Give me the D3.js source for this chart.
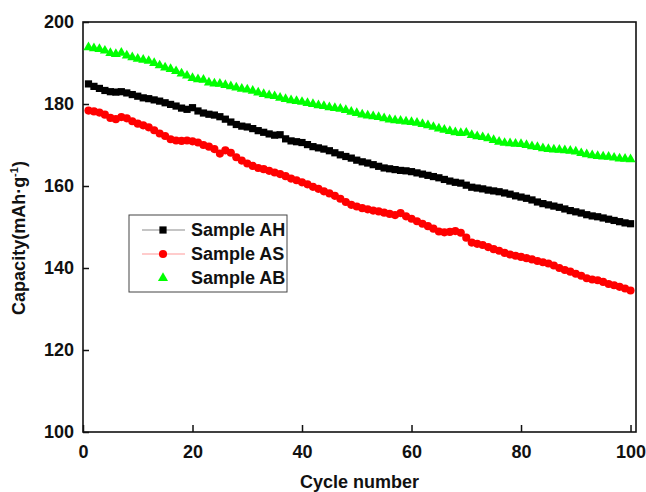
<!DOCTYPE html>
<html>
<head>
<meta charset="utf-8">
<script src="https://cdn.jsdelivr.net/npm/d3@7"></script>
<style>
  html, body { margin: 0; padding: 0; background: #fff; }
  svg { display: block; }
</style>
</head>
<body>
<svg id="chart" width="646" height="492"></svg>
<script>
// cycle numbers 1..100
const cycles = d3.range(1, 101)

// capacity values (mAh/g)
const sampleAH = [
  184.9, 184.3, 183.8, 183.3, 183.0, 182.9, 183.0, 182.7, 182.3, 181.9,
  181.5, 181.3, 181.0, 180.7, 180.3, 179.9, 179.5, 179.0, 178.7, 179.1,
  178.3, 177.8, 177.5, 177.3, 176.9, 176.3, 175.6, 175.0, 174.6, 174.4,
  174.0, 173.5, 173.1, 172.7, 172.4, 172.5, 171.5, 171.0, 170.8, 170.6,
  170.1, 169.6, 169.3, 169.0, 168.6, 168.1, 167.6, 167.2, 166.8, 166.3,
  165.9, 165.6, 165.2, 164.8, 164.4, 164.2, 164.0, 163.8, 163.7, 163.5,
  163.2, 162.9, 162.6, 162.3, 162.0, 161.6, 161.2, 160.9, 160.7, 160.2,
  159.7, 159.5, 159.3, 159.0, 158.8, 158.6, 158.3, 158.0, 157.6, 157.3,
  157.0, 156.6, 156.1, 155.7, 155.4, 155.1, 154.8, 154.4, 154.0, 153.7,
  153.4, 153.0, 152.7, 152.5, 152.2, 151.9, 151.6, 151.3, 151.0, 150.8
]
const sampleAS = [
  178.4, 178.2, 177.9, 177.4, 176.6, 176.3, 176.8, 176.5, 175.8, 175.2,
  174.8, 174.3, 173.6, 172.8, 172.2, 171.4, 171.1, 171.0, 171.1, 170.9,
  170.6, 170.0, 169.6, 169.0, 167.9, 168.7, 168.1, 167.0, 166.2, 165.5,
  164.9, 164.4, 164.1, 163.7, 163.3, 162.9, 162.4, 161.8, 161.4, 160.9,
  160.4, 159.8, 159.3, 158.7, 158.2, 157.6, 156.9, 156.1, 155.4, 155.0,
  154.6, 154.3, 154.0, 153.8, 153.5, 153.2, 152.9, 153.4, 152.6, 152.0,
  151.4, 150.8, 150.2, 149.6, 148.9, 148.7, 148.8, 149.0, 148.6, 147.4,
  146.2, 145.9, 145.6, 145.1, 144.6, 144.2, 143.7, 143.3, 143.0, 142.7,
  142.4, 142.1, 141.7, 141.4, 141.1, 140.6, 140.0, 139.5, 139.1, 138.6,
  138.1, 137.5, 137.2, 137.0, 136.6, 136.1, 135.8, 135.4, 135.0, 134.5
]
const sampleAB = [
  193.8, 193.6, 193.4, 193.0, 192.4, 192.2, 192.5, 191.8, 191.4, 191.0,
  190.8, 190.5, 190.0, 189.4, 188.9, 188.5, 188.0, 187.4, 186.9, 186.3,
  186.0, 185.9, 185.2, 185.0, 184.9, 184.6, 184.3, 184.0, 183.7, 183.5,
  183.2, 182.8, 182.4, 182.1, 181.9, 181.5, 181.2, 180.9, 180.7, 180.5,
  180.2, 180.0, 179.7, 179.5, 179.2, 179.0, 178.8, 178.5, 178.1, 177.8,
  177.4, 177.2, 177.0, 176.8, 176.5, 176.2, 176.0, 175.9, 175.7, 175.6,
  175.4, 175.1, 174.8, 174.4, 174.0, 173.7, 173.4, 173.1, 172.9, 173.0,
  172.4, 172.1, 171.9, 171.6, 171.2, 170.8, 170.5, 170.4, 170.3, 170.2,
  170.0, 169.7, 169.5, 169.2, 169.0, 168.9, 168.8, 168.7, 168.6, 168.4,
  168.0, 167.7, 167.5, 167.3, 167.2, 167.1, 166.9, 166.7, 166.6, 166.5
]

const seriesNames = ["Sample AH", "Sample AS", "Sample AB"]
const xTicks = [0, 20, 40, 60, 80, 100]
const yTicks = [100, 120, 140, 160, 180, 200]

const series = [
  { name: seriesNames[0], values: sampleAH, color: "#000000", line: "#8c8c8c", symbol: d3.symbolSquare, size: 52 },
  { name: seriesNames[1], values: sampleAS, color: "#ff0000", line: "#ff9a9a", symbol: d3.symbolCircle, size: 52 },
  { name: seriesNames[2], values: sampleAB, color: "#00ff00", line: null, symbol: d3.symbolTriangle, size: 44 }
]

const margin = { top: 22, right: 10, bottom: 60, left: 83 }
const width = 646, height = 492
const chartWidth = width - margin.left - margin.right
const chartHeight = height - margin.top - margin.bottom

const x = d3.scaleLinear().domain([0, 101]).range([0, chartWidth])
const y = d3.scaleLinear().domain([100, 200]).range([chartHeight, 0])

const svg = d3.select("#chart").append("g")
  .attr("transform", `translate(${margin.left},${margin.top})`)

const tickFont = "'Liberation Sans', Arial, sans-serif"

// x axis with inward ticks
const xAxis = svg.append("g").attr("transform", `translate(0,${chartHeight})`)
xAxis.call(d3.axisBottom(x).tickValues(d3.range(10, 101, 20)).tickSize(-4).tickFormat(""))
xAxis.call(d3.axisBottom(x).tickValues(xTicks).tickSize(-7).tickPadding(13).tickFormat(d3.format("d")))
xAxis.selectAll(".domain").remove()
xAxis.selectAll("line").attr("stroke", "#111").attr("stroke-width", 1.5)
xAxis.selectAll("text")
  .attr("font-family", tickFont)
  .attr("font-size", 18)
  .attr("font-weight", "bold")
  .attr("fill", "#111")

// y axis with inward ticks
const yAxis = svg.append("g")
yAxis.call(d3.axisLeft(y).tickValues(d3.range(110, 200, 20)).tickSize(-4).tickFormat(""))
yAxis.call(d3.axisLeft(y).tickValues(yTicks).tickSize(-6).tickPadding(9).tickFormat(d3.format("d")))
yAxis.selectAll(".domain").remove()
yAxis.selectAll("line").attr("stroke", "#111").attr("stroke-width", 1.5)
yAxis.selectAll("text")
  .attr("font-family", tickFont)
  .attr("font-size", 18)
  .attr("font-weight", "bold")
  .attr("fill", "#111")

// frame
svg.append("rect")
  .attr("x", 0).attr("y", 0)
  .attr("width", chartWidth).attr("height", chartHeight)
  .attr("fill", "none")
  .attr("stroke", "#111")
  .attr("stroke-width", 1.6)

// axis titles
svg.append("text")
  .attr("x", x(50.5))
  .attr("y", chartHeight + 56)
  .attr("text-anchor", "middle")
  .attr("font-family", tickFont)
  .attr("font-size", 18)
  .attr("font-weight", "bold")
  .attr("fill", "#111")
  .text("Cycle number")

const yTitle = svg.append("text")
  .attr("transform", `translate(${25 - margin.left},${238 - margin.top}) rotate(-90)`)
  .attr("text-anchor", "middle")
  .attr("font-family", tickFont)
  .attr("font-size", 18)
  .attr("font-weight", "bold")
  .attr("fill", "#111")
yTitle.append("tspan").text("Capacity(mAh·g")
yTitle.append("tspan").attr("font-size", 11).attr("dy", -7).text("-1")
yTitle.append("tspan").attr("dy", 7).text(")")

// series lines and markers
const line = d3.line().x((d, i) => x(cycles[i])).y(d => y(d))
const vizLayer = svg.append("g").attr("id", "viz")

series.forEach(s => {
  if (s.line) {
    vizLayer.append("path")
      .attr("d", line(s.values))
      .attr("fill", "none")
      .attr("stroke", s.line)
      .attr("stroke-width", 1)
  }
})

series.forEach(s => {
  vizLayer.append("g")
    .selectAll("path")
    .data(s.values)
    .join("path")
    .attr("transform", (d, i) => `translate(${x(cycles[i])},${y(d)})`)
    .attr("d", d3.symbol(s.symbol, s.size))
    .attr("fill", s.color)
})

// legend
const legend = d3.select("#chart").append("g")
  .attr("transform", "translate(129,215)")

legend.append("rect")
  .attr("width", 158)
  .attr("height", 77)
  .attr("fill", "#fff")
  .attr("stroke", "#444")
  .attr("stroke-width", 1)

const rows = legend.selectAll("g.row")
  .data(series)
  .join("g")
  .attr("class", "row")
  .attr("transform", (d, i) => `translate(0,${15 + i * 24})`)

rows.filter(d => d.line)
  .append("line")
  .attr("x1", 13).attr("x2", 56)
  .attr("stroke", d => d.line)
  .attr("stroke-width", 1.2)

rows.append("path")
  .attr("transform", "translate(34,0)")
  .attr("d", d => d3.symbol(d.symbol, d.size)())
  .attr("fill", d => d.color)

rows.append("text")
  .attr("x", 62)
  .attr("dy", "0.36em")
  .attr("font-family", tickFont)
  .attr("font-size", 18)
  .attr("font-weight", "bold")
  .attr("fill", "#111")
  .text(d => d.name)
</script>
</body>
</html>
